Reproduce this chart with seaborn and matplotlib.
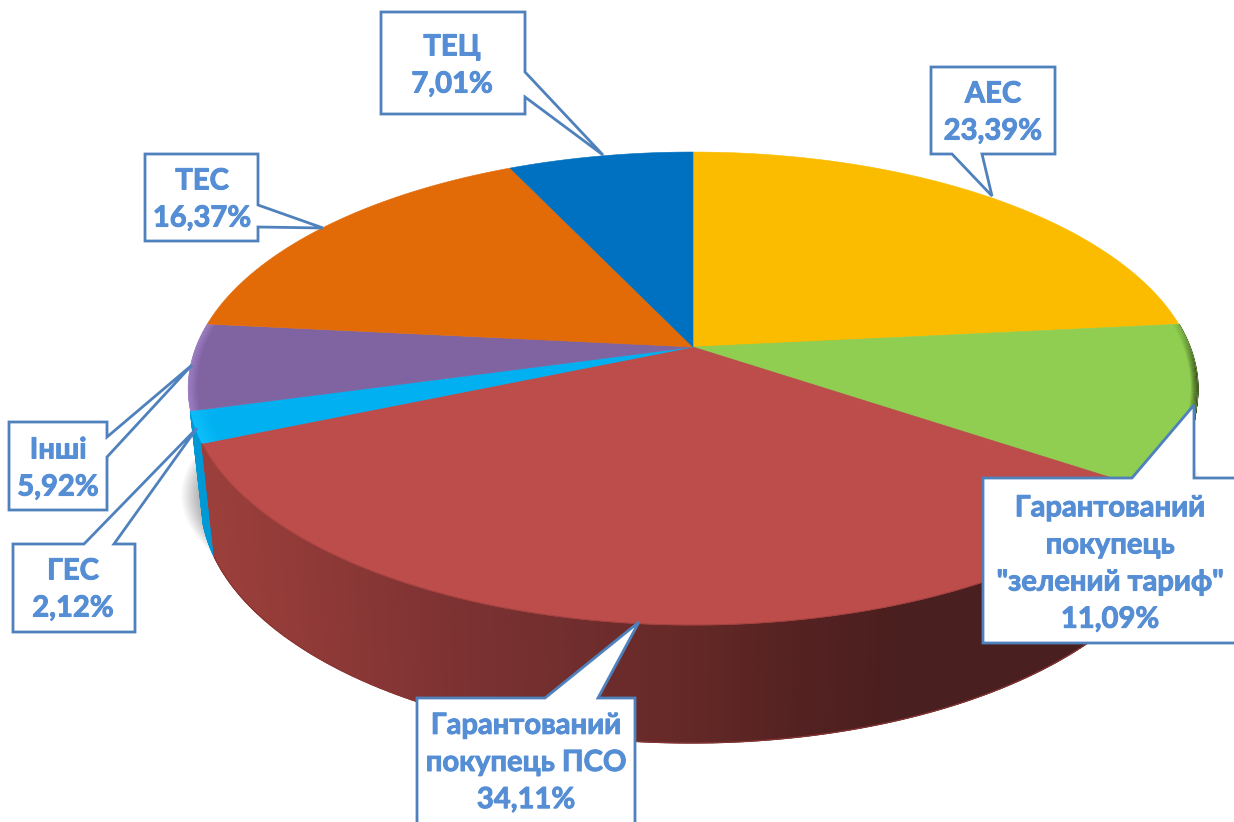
import numpy as np
import matplotlib
matplotlib.use("Agg")
import matplotlib.pyplot as plt
import matplotlib.patheffects as pe
import seaborn as sns

# ---------- data ----------
names = ["АЕС", "Гарантований\nпокупець\n\"зелений тариф\"", "Гарантований\nпокупець ПСО",
         "ГЕС", "Інші", "ТЕС", "ТЕЦ"]
values = [23.39, 11.09, 34.11, 2.12, 5.92, 16.37, 7.01]
top_hex = ["#FBBC00", "#8FCE50", "#BC4D4B", "#00B0F0", "#8064A2", "#E26B08", "#0070C0"]

# ---------- layout (pixels) ----------
W, H = 1234, 822
TOP = dict(x0=693.0, y0=347.0, A=497.0, C=229.2, q=0.1755)
BOT = dict(x0=691.0, y0=458.5, A=482.3, C=234.5, q=0.1755)
label_xy = [(993, 113), (1110, 564), (526, 763), (73, 590), (58, 469), (202, 200), (452, 66)]
callouts = [
    [(931, 67), (1055, 67), (1055, 154), (982, 154), (992, 196), (952, 154), (931, 154)],
    [(983, 478), (1132, 478), (1194, 405), (1194, 478), (1240, 478), (1240, 643), (983, 643)],
    [(417, 698), (545, 698), (639, 622), (598, 698), (635, 698), (635, 835), (417, 835)],
    [(13, 544), (84, 544), (197, 428), (114, 544), (135, 544), (135, 632), (13, 632)],
    [(9, 422), (107, 422), (107, 437), (192, 365), (107, 457), (107, 510), (9, 510)],
    [(145, 154), (258, 154), (258, 205), (323, 228), (258, 227), (258, 241), (145, 241)],
    [(381, 12), (525, 12), (525, 72), (603, 155), (525, 97), (525, 114), (381, 114)],
]

sns.set_theme(style="white")
plt.rcParams["font.family"] = ["Lato", "DejaVu Sans"]
palette = sns.color_palette(top_hex)
TXT = "#558ED5"
EDGE = "#4F81BD"

fig = plt.figure(figsize=(W / 100, H / 100), dpi=100, facecolor="white")
ax = fig.add_axes([0, 0, 1, 1])
ax.set_xlim(0, W)
ax.set_ylim(H, 0)
ax.axis("off")


def project(theta_deg, r=1.0, p=TOP):
    t = np.radians(theta_deg)
    x, y = r * np.cos(t), r * np.sin(t)
    d = 1 + p["q"] * y
    return p["x0"] + p["A"] * x / d, p["y0"] - p["C"] * y / d


cum = np.cumsum([0] + values) / sum(values) * 360
starts, ends = 90 - cum[:-1], 90 - cum[1:]

# soft shadow beside the drum
tt = np.linspace(0, 360, 181)
for k in range(0, 22, 1):
    ax.fill(692 + (490 + k) * np.cos(np.radians(tt)), 495 + 170 * np.sin(np.radians(tt)),
            color="black", alpha=0.014, lw=0, zorder=1)


def wall(a0, a1, colour_at, z=2):
    ts = np.linspace(a0, a1, max(int(abs(a1 - a0) * 4), 2) + 1)
    for u, v in zip(ts[:-1], ts[1:]):
        xa, ya = project(np.array([u, v]))
        xb, yb = project(np.array([v, u]), p=BOT)
        c = colour_at(0.5 * (xa.mean() + xb.mean()))
        ax.fill(np.r_[xa, xb], np.r_[ya, yb], color=c, lw=1.0, ec=c, zorder=z)


red_x = [200, 300, 430, 560, 690, 800, 900, 1100]
red_r = [.615, .57, .50, .45, .39, .33, .29, .29]
red_g = [.25, .23, .20, .18, .16, .13, .12, .12]
red_b = [.235, .22, .20, .18, .15, .13, .12, .12]


def red_col(x):
    return np.interp(x, red_x, red_r), np.interp(x, red_x, red_g), np.interp(x, red_x, red_b)


wall(starts[1], ends[1], lambda x: (0.24, 0.33, 0.13))
wall(starts[3], ends[3], lambda x: (0.0, 0.60, 0.84))
wall(starts[2], ends[2], red_col, z=3)
ts = np.linspace(ends[2], starts[2], 200)
bx, by = project(ts, p=BOT)
ax.plot(bx, by, color="#8A3533", lw=0.8, zorder=3)

# top face
for a0, a1, col in zip(starts, ends, palette):
    ts = np.linspace(a0, a1, 120)
    x, y = project(ts)
    ax.fill(np.r_[TOP["x0"], x], np.r_[TOP["y0"], y], color=col, lw=0.4, ec=col, zorder=4)


# bevels on the outer rim
def rim(a0, a1, target, weight, bands=6, step=0.0022):
    ts = np.linspace(a0, a1, 60)
    for k in range(bands):
        r1, r2 = 1 - k * step, 1 - (k + 1) * step
        for u, v in zip(ts[:-1], ts[1:]):
            w = weight(0.5 * (u + v)) * (1 - k / bands)
            if w <= 0.01:
                continue
            xa, ya = project(np.array([u, v]), r1)
            xb, yb = project(np.array([v, u]), r2)
            ax.fill(np.r_[xa, xb], np.r_[ya, yb], color=target, alpha=min(w, 1), lw=0, zorder=5)


rim(starts[1], ends[1], "#2E4016", lambda a: 0.95 * np.exp(-((a + 9) / 11) ** 2))
rim(starts[4], ends[4], "#A888D0", lambda a: 0.8, bands=8)
rim(starts[3], ends[3], "#12C4FF", lambda a: 1.0, bands=9, step=0.004)

ts = np.linspace(starts[2], ends[2], 200)
tx, ty = project(ts)
ax.plot(tx, ty, color="#A34240", lw=0.7, zorder=5)

# callouts
for poly, (lx, ly), name, val in zip(callouts, label_xy, names, values):
    px, py = zip(*poly)
    ax.fill(px, py, facecolor="white", edgecolor=EDGE, lw=2.0, joinstyle="miter", zorder=6)
    ax.text(lx, ly, f"{name}\n{val:.2f}%".replace(".", ","), color=TXT, fontsize=21,
            fontweight="bold", ha="center", va="center", linespacing=1.53, zorder=7,
            path_effects=[pe.withStroke(linewidth=0.7, foreground=TXT)])

fig.savefig("out.png", dpi=100, facecolor="white")
